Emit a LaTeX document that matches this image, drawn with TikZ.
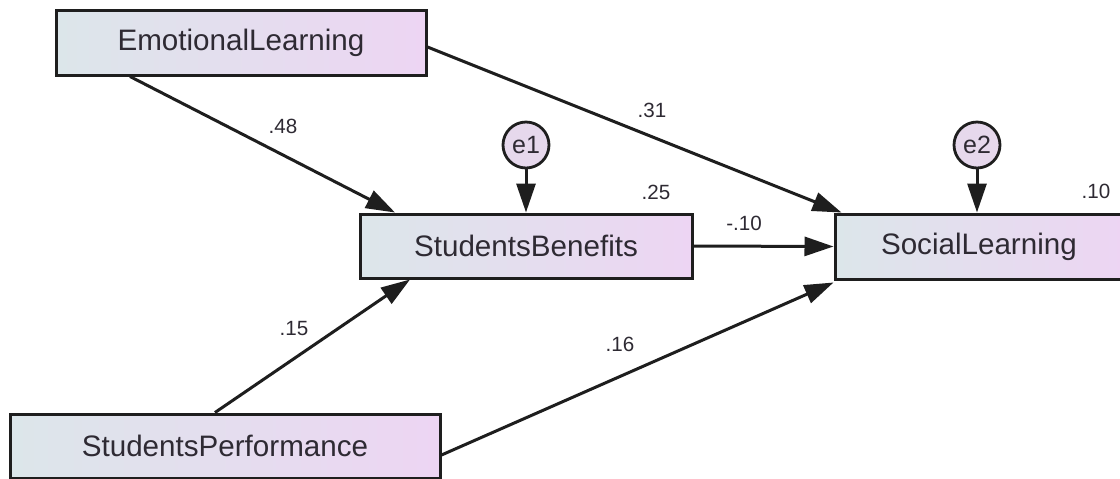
\documentclass[tikz,border=0pt]{standalone}
\usepackage{fontspec}
\setmainfont{Liberation Sans}
\usetikzlibrary{arrows.meta}
\definecolor{boxleft}{HTML}{DCE6EA}
\definecolor{boxright}{HTML}{EDD5F3}
\definecolor{edgecol}{HTML}{1E1E1E}
\definecolor{textcol}{HTML}{2E2A33}
\definecolor{errfill}{HTML}{E6D8EC}
\tikzset{
  varbox/.style={draw=edgecol, line width=1.5pt, left color=boxleft, right color=boxright,
    text=textcol, font=\fontsize{14.8}{17}\selectfont, inner sep=0pt},
  errnode/.style={circle, draw=edgecol, line width=1.4pt, fill=errfill, minimum size=23pt,
    inner sep=0pt, text=textcol, font=\fontsize{12.5}{14}\selectfont},
  path/.style={draw=edgecol, line width=1.5pt, -{Triangle[length=14.5pt,width=9.5pt]}},
  coef/.style={text=textcol, font=\fontsize{10.3}{12}\selectfont, inner sep=0pt}
}
\begin{document}
\begin{tikzpicture}[x=0.5pt,y=-0.5pt]
\useasboundingbox (0,0) rectangle (1120,478);
\clip (0,0) rectangle (1120,478);
\fill[white] (0,0) rectangle (1120,478);
% boxes
\node[varbox, minimum width=185pt, minimum height=32.5pt] (EL) at (241,42.5) {EmotionalLearning};
\node[varbox, minimum width=166pt, minimum height=32pt] (SB) at (526,246) {StudentsBenefits};
\node[varbox, minimum width=145pt, minimum height=32.5pt, text width=145pt, align=left] (SL) at (980,246.5) {\hspace*{23pt}SocialLearning};
\node[varbox, minimum width=215pt, minimum height=32pt] (SP) at (225,446) {StudentsPerformance};
% error terms
\node[errnode] (e1) at (526,145) {e1};
\node[errnode] (e2) at (977,145) {e2};
% paths
\draw[path] ([xshift=-55.5pt]EL.south) -- ([xshift=-65.5pt]SB.north);
\draw[path] ([yshift=-2.25pt]EL.east) -- ([xshift=4pt]SL.north west);
\draw[path] (SB.east) -- (SL.west);
\draw[path] ([xshift=-5pt]SP.north) -- ([xshift=-58pt]SB.south);
\draw[path] ([yshift=-4.5pt]SP.east) -- ([yshift=-1pt]SL.south west);
\draw[path] (e1.south) -- (SB.north);
\draw[path] (e2.south) -- (e2.south |- SL.north);
% coefficients
\node[coef] (c48) at (283,126) {.48};
\node[coef] (c31) at (652,110) {.31};
\node[coef] (c10a) at (744,223) {-.10};
\node[coef] (c15) at (294,329) {.15};
\node[coef] (c16) at (620,344) {.16};
\node[coef] (r25) at (656,192) {.25};
\node[coef] (r10) at (1096,191) {.10};
\end{tikzpicture}
\end{document}
